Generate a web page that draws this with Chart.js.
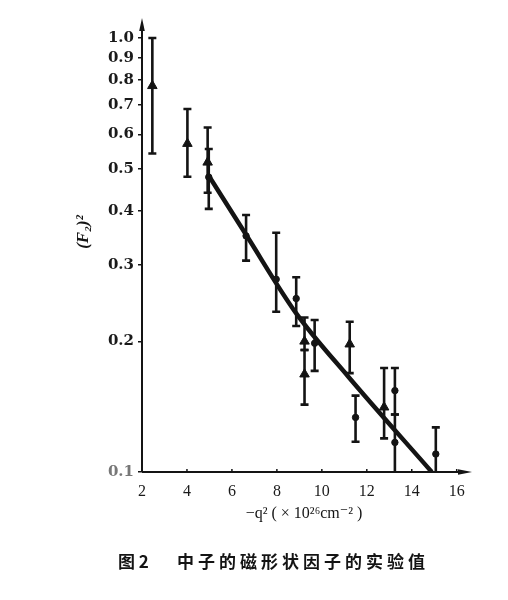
<!DOCTYPE html>
<html><head><meta charset="utf-8">
<script src="https://cdn.jsdelivr.net/npm/chart.js@4/dist/chart.umd.min.js"></script>
<style>html,body{margin:0;padding:0;background:#fff}</style>
</head><body>
<canvas id="c" width="508" height="600" style="width:508px;height:600px;display:block"></canvas>
<script>
// ---- data ----
const xTicks = [2, 4, 6, 8, 10, 12, 14, 16];
const yTicks = [0.1, 0.2, 0.3, 0.4, 0.5, 0.6, 0.7, 0.8, 0.9, 1.0];

const triX  = [2.46, 4.02, 4.92, 9.23, 9.23, 11.24, 12.77];
const triY  = [0.776, 0.571, 0.517, 0.200, 0.168, 0.197, 0.141];
const triLo = [0.542, 0.479, 0.440, 0.191, 0.143, 0.169, 0.1195];
const triHi = [1.000, 0.686, 0.622, 0.227, 0.191, 0.222, 0.1737];

const cirX  = [4.97, 6.63, 7.97, 8.86, 9.68, 11.50, 13.25, 13.25, 15.07];
const cirY  = [0.478, 0.350, 0.278, 0.251, 0.198, 0.1336, 0.154, 0.117, 0.110];
const cirLo = [0.404, 0.307, 0.234, 0.217, 0.171, 0.1174, 0.1357, 0.100, 0.100];
const cirHi = [0.555, 0.391, 0.356, 0.281, 0.224, 0.150, 0.1737, 0.1357, 0.1267];

const fitX = [4.92, 6.63, 8.86, 11.17, 14.89];
const fitY = [0.486, 0.352, 0.232, 0.166, 0.100];

const xTitle = "−q² ( × 10²⁶cm⁻² )";
const yTitle = "(F₂)²";
const capFig = "图 2";
const capText = "中子的磁形状因子的实验值";

const INK = '#141414';
const zip = (xs, ys) => xs.map((x, i) => ({x, y: ys[i]}));

const errBars = {
  id: 'errBars',
  beforeDatasetsDraw(chart) {
    const {ctx, scales: {x, y}} = chart;
    ctx.save();
    ctx.strokeStyle = INK;
    ctx.lineWidth = 2.6;
    const draw = (xs, lo, hi) => {
      xs.forEach((v, i) => {
        const px = x.getPixelForValue(v);
        const p1 = y.getPixelForValue(lo[i]);
        const p2 = y.getPixelForValue(hi[i]);
        ctx.beginPath();
        ctx.moveTo(px, p1); ctx.lineTo(px, p2);
        if (lo[i] > 0.1001) { ctx.moveTo(px - 4, p1); ctx.lineTo(px + 4, p1); }
        ctx.moveTo(px - 4, p2); ctx.lineTo(px + 4, p2);
        ctx.stroke();
      });
    };
    draw(triX, triLo, triHi);
    draw(cirX, cirLo, cirHi);
    ctx.restore();
  },
  afterDraw(chart) {
    const {ctx, chartArea: a, scales: {x}} = chart;
    ctx.save();
    ctx.strokeStyle = INK; ctx.fillStyle = INK;
    ctx.lineWidth = 2;
    ctx.beginPath();
    ctx.moveTo(a.left, a.bottom); ctx.lineTo(a.left, a.top + 6);
    ctx.moveTo(a.left, a.bottom); ctx.lineTo(a.right - 6, a.bottom);
    ctx.stroke();
    ctx.beginPath();
    ctx.moveTo(a.left, a.top); ctx.lineTo(a.left - 2.8, a.top + 13); ctx.lineTo(a.left + 2.8, a.top + 13); ctx.closePath();
    ctx.fill();
    ctx.beginPath();
    ctx.moveTo(a.right, a.bottom); ctx.lineTo(a.right - 14, a.bottom - 2.8); ctx.lineTo(a.right - 14, a.bottom + 2.8); ctx.closePath();
    ctx.fill();
    ctx.lineWidth = 1.5;
    x.ticks.forEach(t => {
      const px = x.getPixelForValue(t.value);
      ctx.beginPath(); ctx.moveTo(px, a.bottom); ctx.lineTo(px, a.bottom - 3); ctx.stroke();
    });
    ctx.textAlign = 'center'; ctx.textBaseline = 'middle';
    ctx.font = '16px "Liberation Serif", "DejaVu Serif", serif';
    ctx.fillText(xTitle, 304, 514);
    ctx.save();
    ctx.translate(84, 232);
    ctx.rotate(-Math.PI / 2);
    ctx.font = 'bold italic 17px "Liberation Serif", "DejaVu Serif", serif';
    ctx.fillText(yTitle, 0, 0);
    ctx.restore();
    ctx.textAlign = 'left';
    ctx.font = 'bold 17px "Noto Sans CJK SC", sans-serif';
    ctx.fillText(capFig, 118, 562);
    ctx.letterSpacing = '4px';
    ctx.fillText(capText, 177, 562);
    ctx.letterSpacing = '0px';
    ctx.restore();
  }
};

new Chart(document.getElementById('c'), {
  type: 'scatter',
  data: {
    datasets: [
      { type: 'line', data: zip(fitX, fitY), borderColor: INK, borderWidth: 4.5,
        pointRadius: 0, cubicInterpolationMode: 'monotone', fill: false, order: 3 },
      { data: zip(triX, triY), pointStyle: 'triangle', pointRadius: 5.5,
        backgroundColor: INK, borderColor: INK, borderWidth: 1, order: 1 },
      { data: zip(cirX, cirY), pointStyle: 'circle', pointRadius: 3.2,
        backgroundColor: INK, borderColor: INK, borderWidth: 1, order: 2 }
    ]
  },
  options: {
    responsive: false,
    animation: false,
    devicePixelRatio: 1,
    layout: { padding: { left: 0, right: 36, top: 18, bottom: 0 } },
    plugins: { legend: { display: false }, tooltip: { enabled: false } },
    scales: {
      x: {
        type: 'linear', min: 2, max: 16.68,
        afterBuildTicks: s => { s.ticks = xTicks.map(v => ({value: v})); },
        afterFit: s => { s.height = 128; },
        grid: { display: false },
        border: { display: false },
        ticks: { color: '#1a1a1a', padding: 2, maxRotation: 0,
          font: { family: '"Liberation Serif", "DejaVu Serif", serif', size: 16 },
          callback: v => String(v) }
      },
      y: {
        type: 'logarithmic', min: 0.1, max: 1.112,
        afterBuildTicks: s => { s.ticks = yTicks.map(v => ({value: v})); },
        afterFit: s => { s.width = 142; },
        grid: { display: true, drawOnChartArea: false, drawTicks: true, tickLength: 4, color: INK, lineWidth: 1.5 },
        border: { display: false },
        ticks: { padding: 4, autoSkip: false,
          color: c => (c.tick && c.tick.value === 0.1) ? '#777' : '#1a1a1a',
          font: { family: '"DejaVu Serif", serif', size: 15, weight: 'bold' },
          callback: v => Number(v).toFixed(1) }
      }
    }
  },
  plugins: [errBars]
});
</script>
</body></html>
